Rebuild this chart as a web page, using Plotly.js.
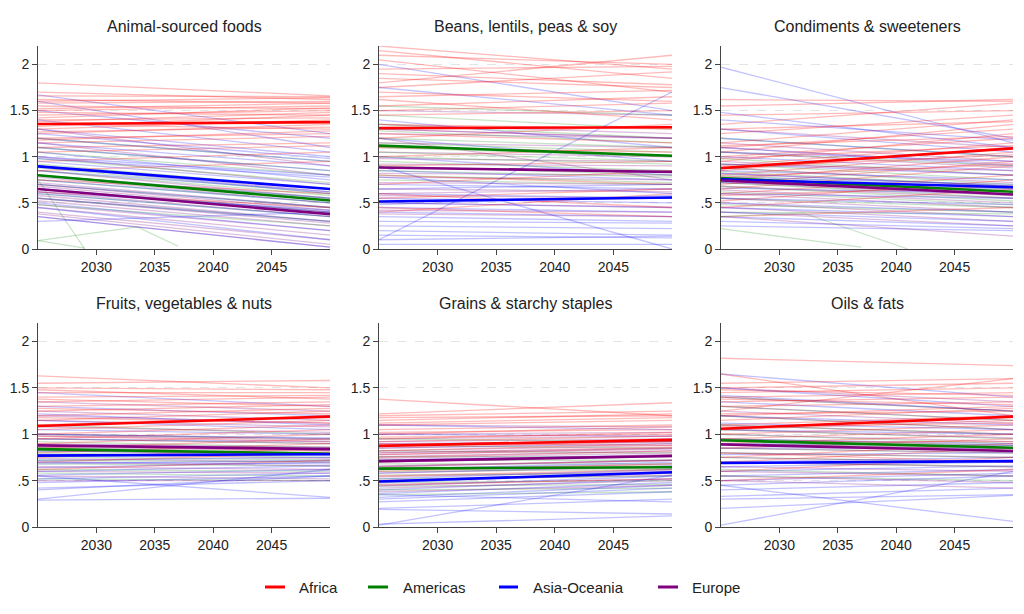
<!DOCTYPE html>
<html>
<head>
<meta charset="utf-8">
<script src="https://cdn.plot.ly/plotly-3.0.1.min.js"></script>
<style>html,body{margin:0;padding:0;background:#fff;}#chart{width:1024px;height:614px;}</style>
</head>
<body>
<div id="chart"></div>
<script>
// ---------------- DATA ----------------
const years = [2025, 2050];
const regions = ['Africa', 'Americas', 'Asia-Oceania', 'Europe'];
const panelTitles = ['Animal-sourced foods', 'Beans, lentils, peas & soy', 'Condiments & sweeteners',
                     'Fruits, vegetables & nuts', 'Grains & starchy staples', 'Oils & fats'];
const xTickVals = [2030, 2035, 2040, 2045];
const yTickVals = [0, 0.5, 1, 1.5, 2];
const yTickText = ['0', '.5', '1', '1.5', '2'];

// Country lines: [value 2025, value 2050]
// Panel 1: Animal-sourced foods
const animal_Africa = [[1.80,1.66],[1.70,1.62],[1.66,1.65],[1.62,1.58],[1.58,1.60],[1.55,1.52],[1.50,1.55],[1.48,1.45],[1.45,1.50],[1.40,1.42],[1.38,1.48],[1.35,1.30],[1.30,1.40],[1.25,1.35],[1.20,1.25],[1.15,1.22],[1.10,1.15],[1.05,1.12],[0.95,1.05],[0.85,0.95],[1.60,1.64],[1.52,1.58],[1.42,1.53],[1.33,1.45],[1.27,1.32],[1.18,1.28],[0.75,0.60],[0.62,0.45]];
const animal_Americas = [[1.20,0.95],[1.10,0.85],[1.05,0.80],[0.98,0.72],[0.92,0.65],[0.88,0.60],[0.85,0.58],[0.80,0.55],[0.75,0.50],[0.70,0.45],[0.65,0.40],[0.60,0.35],[0.55,0.30],[0.48,0.25]];
const animal_Asia = [[1.67,1.25],[1.60,1.10],[1.50,1.20],[1.40,1.05],[1.30,1.00],[1.20,0.95],[1.10,0.85],[1.05,0.75],[1.00,0.80],[0.95,0.70],[0.90,0.60],[0.85,0.62],[0.80,0.55],[0.75,0.50],[0.70,0.45],[0.65,0.40],[0.60,0.35],[0.55,0.30],[0.50,0.20],[0.45,0.10],[0.35,0.02],[0.30,0.40],[1.25,0.98],[1.15,0.90],[0.98,0.78],[0.62,0.42]];
const animal_Europe = [[1.30,0.90],[1.15,0.80],[1.00,0.70],[0.90,0.62],[0.85,0.55],[0.78,0.50],[0.72,0.45],[0.68,0.40],[0.62,0.35],[0.58,0.30],[0.52,0.25],[0.48,0.20],[0.45,0.15],[0.40,0.10],[0.38,0.05],[0.35,0.02],[0.70,0.42],[0.55,0.28]];
const animal_means = [[1.355,1.375],[0.80,0.525],[0.895,0.65],[0.65,0.378]];
const animal_oddX = [[2025,2029],[2025,2033.5,2037],[2025,2029]];
const animal_oddY = [[0.75,0.0],[0.09,0.24,0.03],[0.09,0.01]];

// Panel 2: Beans, lentils, peas & soy
const beans_Africa = [[2.20,1.95],[2.10,2.00],[2.05,1.70],[1.95,1.98],[1.85,1.75],[1.80,2.10],[1.70,1.60],[1.62,1.40],[1.55,1.65],[1.45,1.50],[1.35,1.30],[1.30,1.20],[1.20,1.35],[1.10,1.05],[1.00,1.10],[0.90,0.95],[0.80,0.70],[0.70,0.85],[0.55,0.65],[0.40,0.60],[2.15,1.85],[1.90,1.78],[1.75,1.92],[1.65,1.72],[1.50,1.58],[1.25,1.15],[0.60,0.45],[0.45,0.35]];
const beans_Americas = [[1.55,1.45],[1.45,1.30],[1.35,1.20],[1.28,1.15],[1.20,1.10],[1.15,1.05],[1.10,1.00],[1.05,0.95],[1.00,0.92],[0.95,0.85],[0.90,0.80],[0.85,0.78],[0.80,0.72],[0.75,0.70]];
const beans_Asia = [[2.00,1.50],[1.75,1.45],[1.40,1.10],[1.20,0.95],[1.00,0.80],[0.85,0.75],[0.70,0.65],[0.60,0.55],[0.55,0.50],[0.50,0.45],[0.45,0.40],[0.40,0.35],[0.35,0.30],[0.30,0.28],[0.25,0.22],[0.20,0.15],[0.15,0.12],[0.10,0.14],[0.05,0.05],[0.10,1.70],[0.90,0.00],[1.30,1.20],[0.78,0.60],[0.65,0.70],[0.48,0.58]];
const beans_Europe = [[1.50,1.45],[1.35,1.25],[1.25,1.20],[1.15,1.10],[1.05,1.00],[0.98,0.95],[0.92,0.90],[0.88,0.85],[0.82,0.80],[0.78,0.75],[0.72,0.70],[0.65,0.62],[0.58,0.55],[0.50,0.45],[0.42,0.40],[0.38,0.35],[1.20,0.75],[0.60,0.65]];
const beans_means = [[1.31,1.32],[1.12,1.01],[0.515,0.558],[0.884,0.835]];

// Panel 3: Condiments & sweeteners
const condiments_Africa = [[1.62,1.60],[1.55,1.62],[1.45,1.50],[1.35,1.58],[1.25,1.45],[1.15,1.40],[1.10,1.30],[1.05,1.35],[1.00,1.20],[0.95,1.25],[0.90,1.15],[0.85,1.10],[0.80,1.05],[0.75,1.00],[0.70,0.95],[0.65,0.90],[0.60,0.80],[0.52,0.75],[0.45,0.65],[0.35,0.45],[1.30,1.38],[1.12,1.22],[0.98,1.12],[0.88,1.02],[0.78,0.92],[0.58,0.68]];
const condiments_Americas = [[1.20,1.00],[1.05,0.90],[0.98,0.80],[0.92,0.75],[0.88,0.70],[0.84,0.68],[0.80,0.65],[0.76,0.60],[0.72,0.55],[0.68,0.52],[0.62,0.48],[0.55,0.45],[0.48,0.40],[0.40,0.38]];
const condiments_Asia = [[1.97,1.15],[1.75,1.20],[1.48,1.10],[1.30,1.05],[1.20,1.00],[1.10,0.90],[1.00,0.85],[0.92,0.80],[0.85,0.75],[0.78,0.70],[0.72,0.65],[0.66,0.60],[0.60,0.55],[0.55,0.48],[0.50,0.40],[0.45,0.35],[0.40,0.30],[0.35,0.25],[0.30,0.22],[0.25,0.20],[1.40,1.18],[1.05,0.95],[0.82,0.68]];
const condiments_Europe = [[1.30,1.10],[1.15,0.95],[1.05,0.88],[0.95,0.80],[0.88,0.72],[0.82,0.68],[0.76,0.62],[0.72,0.58],[0.68,0.55],[0.64,0.50],[0.60,0.45],[0.55,0.40],[0.50,0.35],[0.45,0.30],[0.40,0.25],[0.35,0.14],[1.10,0.92],[0.92,0.85]];
const condiments_means = [[0.877,1.09],[0.768,0.62],[0.755,0.67],[0.743,0.59]];
const condiments_oddX = [[2025,2037],[2025,2032,2041]];
const condiments_oddY = [[0.22,0.02],[0.35,0.39,0.0]];

// Panel 4: Fruits, vegetables & nuts
const fruits_Africa = [[1.63,1.50],[1.55,1.58],[1.50,1.48],[1.45,1.45],[1.40,1.42],[1.35,1.40],[1.30,1.35],[1.25,1.32],[1.20,1.28],[1.15,1.25],[1.10,1.20],[1.05,1.15],[1.00,1.10],[0.95,1.05],[0.90,1.00],[0.85,0.95],[0.80,0.90],[0.75,0.85],[0.70,0.80],[0.62,0.72],[1.48,1.38],[1.38,1.30],[1.28,1.22],[1.18,1.12],[0.98,0.92],[0.88,0.82]];
const fruits_Americas = [[1.10,1.00],[1.00,0.95],[0.95,0.90],[0.92,0.86],[0.88,0.84],[0.85,0.80],[0.82,0.78],[0.80,0.75],[0.76,0.72],[0.72,0.70],[0.68,0.66],[0.62,0.60],[0.58,0.55],[0.52,0.50]];
const fruits_Asia = [[1.45,1.30],[1.30,1.20],[1.15,1.05],[1.05,1.00],[0.95,0.92],[0.88,0.85],[0.82,0.80],[0.78,0.78],[0.72,0.75],[0.68,0.72],[0.64,0.70],[0.60,0.66],[0.56,0.62],[0.52,0.58],[0.48,0.55],[0.42,0.50],[0.40,0.55],[0.29,0.31],[0.55,0.32],[0.30,0.62],[1.22,1.10],[1.00,0.96],[0.70,0.68]];
const fruits_Europe = [[1.35,1.25],[1.25,1.15],[1.15,1.08],[1.08,1.02],[1.00,0.95],[0.95,0.90],[0.90,0.86],[0.86,0.82],[0.82,0.78],[0.78,0.74],[0.74,0.70],[0.70,0.66],[0.65,0.62],[0.60,0.58],[0.55,0.52],[0.50,0.50],[1.20,1.12],[0.98,0.94]];
const fruits_means = [[1.09,1.19],[0.84,0.79],[0.77,0.785],[0.88,0.84]];

// Panel 5: Grains & starchy staples
const grains_Africa = [[1.38,1.20],[1.22,1.34],[1.20,1.25],[1.15,1.22],[1.10,1.15],[1.05,1.10],[1.00,1.08],[0.95,1.02],[0.92,0.98],[0.88,0.95],[0.85,0.92],[0.82,0.90],[0.78,0.85],[0.75,0.82],[0.70,0.78],[0.65,0.72],[0.60,0.68],[0.55,0.62],[0.50,0.58],[0.45,0.52],[1.18,1.20],[1.12,1.18],[1.02,1.05],[0.97,1.00],[0.90,0.88],[0.80,0.86]];
const grains_Americas = [[0.95,0.92],[0.88,0.85],[0.82,0.80],[0.76,0.76],[0.72,0.72],[0.68,0.68],[0.64,0.66],[0.60,0.62],[0.56,0.58],[0.52,0.55],[0.48,0.50],[0.44,0.46],[0.40,0.42],[0.35,0.38]];
const grains_Asia = [[1.10,1.05],[1.00,0.98],[0.90,0.92],[0.80,0.85],[0.72,0.78],[0.65,0.72],[0.58,0.66],[0.52,0.62],[0.48,0.58],[0.44,0.55],[0.40,0.52],[0.36,0.48],[0.32,0.45],[0.30,0.42],[0.27,0.38],[0.20,0.30],[0.19,0.14],[0.03,0.12],[0.02,0.56],[0.35,0.27],[0.85,0.90],[0.62,0.70]];
const grains_Europe = [[1.10,1.08],[1.00,1.02],[0.95,0.98],[0.88,0.92],[0.82,0.88],[0.78,0.84],[0.74,0.80],[0.70,0.76],[0.66,0.72],[0.62,0.68],[0.58,0.65],[0.54,0.60],[0.50,0.56],[0.46,0.52],[0.42,0.50],[0.38,0.45],[0.92,0.95],[0.76,0.82]];
const grains_means = [[0.875,0.94],[0.63,0.645],[0.49,0.59],[0.71,0.765]];

// Panel 6: Oils & fats
const oils_Africa = [[1.82,1.74],[1.65,1.20],[1.55,1.60],[1.50,1.55],[1.45,1.50],[1.40,1.45],[1.35,1.40],[1.30,1.35],[1.25,1.60],[1.20,1.30],[1.15,1.28],[1.10,1.20],[1.05,1.15],[1.00,1.10],[0.95,1.05],[0.90,1.00],[0.85,0.95],[0.75,0.90],[0.70,0.85],[0.60,0.75],[0.50,0.62],[1.48,1.42],[1.38,1.32],[1.22,1.25],[1.08,1.12],[0.92,0.92],[0.80,0.70]];
const oils_Americas = [[1.40,1.25],[1.30,1.15],[1.20,1.05],[1.10,1.00],[1.05,0.95],[1.00,0.90],[0.95,0.88],[0.90,0.85],[0.85,0.80],[0.80,0.75],[0.75,0.70],[0.70,0.65],[0.62,0.55],[0.55,0.50]];
const oils_Asia = [[1.65,1.40],[1.50,1.30],[1.35,1.20],[1.20,1.10],[1.05,1.00],[0.95,0.90],[0.85,0.85],[0.78,0.80],[0.70,0.75],[0.65,0.70],[0.60,0.66],[0.55,0.62],[0.50,0.58],[0.45,0.55],[0.40,0.48],[0.33,0.42],[0.30,0.35],[0.20,0.34],[0.02,0.60],[0.45,0.06],[1.42,1.25],[1.12,1.05],[0.90,0.88]];
const oils_Europe = [[1.50,1.35],[1.40,1.25],[1.30,1.15],[1.20,1.05],[1.10,1.00],[1.00,0.92],[0.95,0.88],[0.90,0.84],[0.85,0.80],[0.80,0.75],[0.75,0.70],[0.70,0.65],[0.65,0.60],[0.60,0.55],[0.55,0.48],[0.50,0.42],[1.25,1.12],[1.05,0.96]];
const oils_means = [[1.06,1.19],[0.935,0.855],[0.69,0.71],[0.89,0.82]];

// ---------------- BUILD ----------------
const faintColors = ['rgba(255,0,0,0.27)', 'rgba(0,128,0,0.22)', 'rgba(0,0,255,0.24)', 'rgba(128,0,128,0.26)'];
const meanColors = ['#ff0000', '#008000', '#0000ff', '#800080'];

const panels = [
  {lines: [animal_Africa, animal_Americas, animal_Asia, animal_Europe], means: animal_means, oddX: animal_oddX, oddY: animal_oddY},
  {lines: [beans_Africa, beans_Americas, beans_Asia, beans_Europe], means: beans_means},
  {lines: [condiments_Africa, condiments_Americas, condiments_Asia, condiments_Europe], means: condiments_means, oddX: condiments_oddX, oddY: condiments_oddY},
  {lines: [fruits_Africa, fruits_Americas, fruits_Asia, fruits_Europe], means: fruits_means},
  {lines: [grains_Africa, grains_Americas, grains_Asia, grains_Europe], means: grains_means},
  {lines: [oils_Africa, oils_Americas, oils_Asia, oils_Europe], means: oils_means}
];

const traces = [];
panels.forEach((p, i) => {
  const xa = 'x' + (i === 0 ? '' : i + 1);
  const ya = 'y' + (i === 0 ? '' : i + 1);
  const maxN = Math.max(...p.lines.map(l => l.length));
  for (let k = 0; k < maxN; k++) {
    p.lines.forEach((arr, r) => {
      if (k < arr.length) {
        traces.push({x: years, y: arr[k], xaxis: xa, yaxis: ya, type: 'scatter', mode: 'lines',
          line: {color: faintColors[r], width: 1.3}, showlegend: false, hoverinfo: 'skip'});
      }
    });
  }
  if (p.oddX) {
    p.oddX.forEach((xs, j) => {
      traces.push({x: xs, y: p.oddY[j], xaxis: xa, yaxis: ya, type: 'scatter', mode: 'lines',
        line: {color: faintColors[1], width: 1.2}, showlegend: false, hoverinfo: 'skip'});
    });
  }
});
panels.forEach((p, i) => {
  const xa = 'x' + (i === 0 ? '' : i + 1);
  const ya = 'y' + (i === 0 ? '' : i + 1);
  p.means.forEach((m, r) => {
    traces.push({x: years, y: m, xaxis: xa, yaxis: ya, type: 'scatter', mode: 'lines',
      name: regions[r], showlegend: false,
      line: {color: meanColors[r], width: 2.6}});
  });
});

const W = 1024, H = 614;
const colPx = [[38, 330], [379, 672], [721, 1013]];
const rowPx = [[46, 249], [323, 527]];
const layout = {
  width: W, height: H,
  margin: {l: 0, r: 0, t: 0, b: 0},
  paper_bgcolor: '#fff', plot_bgcolor: '#fff',
  font: {family: 'Liberation Sans, Arial, sans-serif', color: '#222'},
  showlegend: false,
  annotations: [],
  shapes: [],
  hovermode: false
};
for (let i = 0; i < 6; i++) {
  const c = i % 3, r = Math.floor(i / 3);
  const sfx = i === 0 ? '' : String(i + 1);
  layout['xaxis' + sfx] = {
    domain: [colPx[c][0] / W, colPx[c][1] / W], anchor: 'y' + sfx,
    range: [2025, 2050], tickvals: xTickVals, ticks: 'outside', ticklen: 5, tickcolor: '#444',
    showline: true, linecolor: '#444', linewidth: 1, showgrid: false, zeroline: false,
    tickfont: {size: 14, color: '#222'}
  };
  layout['yaxis' + sfx] = {
    domain: [1 - rowPx[r][1] / H, 1 - rowPx[r][0] / H], anchor: 'x' + sfx,
    range: [0, 2.2], tickvals: yTickVals, ticktext: yTickText, ticks: 'outside', ticklen: 5, tickcolor: '#444',
    showline: true, linecolor: '#444', linewidth: 1, showgrid: true, gridcolor: '#e4e4e4', griddash: 'dash',
    zeroline: false, tickfont: {size: 14, color: '#222'}
  };
  layout.annotations.push({
    text: panelTitles[i], xref: 'paper', yref: 'paper',
    x: (colPx[c][0] + colPx[c][1]) / 2 / W, y: 1 - (r === 0 ? 26 : 303) / H,
    xanchor: 'center', yanchor: 'middle', showarrow: false,
    font: {size: 16, color: '#222'}
  });
}
// legend drawn as keys + labels
const legendLineX = [[265, 285], [368, 388], [499, 518], [658, 678]];
const legendTextX = [297, 401, 531, 690];
const legendY = 1 - 587 / H;
regions.forEach((name, r) => {
  layout.shapes.push({type: 'line', xref: 'paper', yref: 'paper',
    x0: legendLineX[r][0] / W, x1: legendLineX[r][1] / W, y0: legendY, y1: legendY,
    line: {color: meanColors[r], width: 3}});
  layout.annotations.push({text: name, xref: 'paper', yref: 'paper', x: legendTextX[r] / W, y: legendY,
    xanchor: 'left', yanchor: 'middle', showarrow: false, font: {size: 15, color: '#222'}});
});
Plotly.newPlot('chart', traces, layout, {staticPlot: true, displayModeBar: false});
</script>
</body>
</html>
